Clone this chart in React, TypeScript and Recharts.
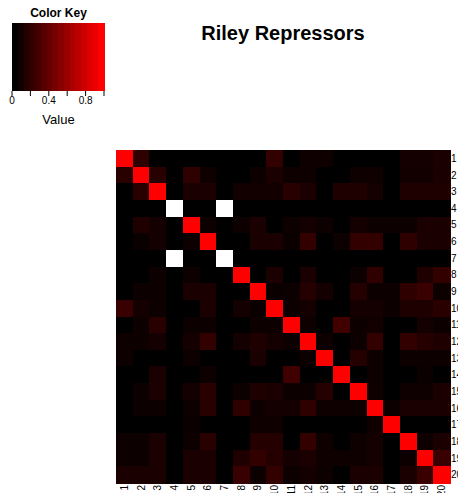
// Riley Repressors — correlation heatmap (20 x 20) with a colour key
import { ScatterChart, Scatter, XAxis, YAxis } from 'recharts'

const labels = Array.from({ length: 20 }, (_, i) => i + 1)

// rows top -> bottom, columns left -> right; null = no value (drawn white)
const cellValues: (number | null)[][] = [
  [1, 0.18, 0, 0, 0, 0, 0, 0, 0, 0.2, 0, 0.06, 0.06, 0, 0, 0, 0, 0.08, 0.08, 0.1],
  [0.16, 1, 0.16, 0, 0.18, 0.06, 0, 0, 0.05, 0.1, 0.06, 0.06, 0, 0, 0.06, 0.06, 0, 0.07, 0.07, 0.1],
  [0, 0.16, 1, 0, 0.1, 0.1, 0, 0.07, 0.07, 0.07, 0.16, 0.1, 0, 0.12, 0.12, 0.08, 0, 0.12, 0.12, 0.12],
  [0, 0, 0, null, 0, 0, null, 0, 0, 0, 0, 0, 0, 0, 0, 0, 0, 0, 0, 0],
  [0, 0.12, 0.08, 0, 1, 0.05, 0, 0.05, 0.1, 0, 0.05, 0.08, 0.05, 0, 0.08, 0.05, 0.05, 0.05, 0.1, 0.1],
  [0, 0.04, 0.08, 0, 0.05, 1, 0, 0, 0.1, 0.1, 0.04, 0.2, 0, 0.05, 0.2, 0.2, 0, 0.18, 0.1, 0.1],
  [0, 0, 0, null, 0, 0, null, 0, 0, 0, 0, 0, 0, 0, 0, 0, 0, 0, 0, 0],
  [0, 0, 0.05, 0, 0.05, 0, 0, 1, 0, 0.1, 0, 0.1, 0, 0, 0.05, 0.18, 0, 0, 0.12, 0.2],
  [0, 0.05, 0.05, 0, 0.1, 0.1, 0, 0, 1, 0.04, 0.05, 0.14, 0.08, 0, 0.14, 0.05, 0.05, 0.18, 0.22, 0.05],
  [0.22, 0.08, 0.05, 0, 0, 0.1, 0, 0.08, 0.04, 1, 0.05, 0.08, 0, 0, 0.08, 0.08, 0.05, 0.12, 0.12, 0.16],
  [0, 0.05, 0.16, 0, 0.05, 0.05, 0, 0, 0.05, 0.05, 1, 0.05, 0, 0.25, 0.05, 0.07, 0, 0, 0.08, 0.05],
  [0.05, 0.05, 0.08, 0, 0.08, 0.2, 0, 0.08, 0.12, 0.08, 0.05, 1, 0.05, 0, 0.05, 0.2, 0, 0.2, 0.15, 0.12],
  [0.05, 0, 0, 0, 0.05, 0, 0, 0, 0.1, 0, 0, 0.05, 1, 0, 0.14, 0.05, 0, 0.05, 0.05, 0.05],
  [0, 0, 0.1, 0, 0, 0.05, 0, 0, 0, 0, 0.25, 0, 0, 1, 0, 0.05, 0, 0, 0.04, 0],
  [0, 0.05, 0.1, 0, 0.08, 0.16, 0, 0.05, 0.12, 0.1, 0.05, 0.05, 0.14, 0, 1, 0.06, 0, 0.06, 0.06, 0.1],
  [0, 0.05, 0.05, 0, 0.05, 0.16, 0, 0.18, 0.05, 0.08, 0.08, 0.18, 0.06, 0.06, 0.05, 1, 0.05, 0.1, 0.1, 0.1],
  [0, 0, 0, 0, 0.04, 0, 0, 0, 0.06, 0.06, 0, 0, 0, 0, 0, 0.06, 1, 0, 0, 0],
  [0.05, 0.05, 0.1, 0, 0.05, 0.16, 0, 0, 0.14, 0.14, 0, 0.2, 0.06, 0, 0.06, 0.08, 0, 1, 0.05, 0.1],
  [0.05, 0.05, 0.1, 0, 0.1, 0.1, 0, 0.12, 0.2, 0.14, 0.08, 0.1, 0.06, 0.06, 0.06, 0.08, 0, 0.05, 1, 0.22],
  [0.1, 0.1, 0.1, 0, 0.1, 0.1, 0, 0.22, 0.05, 0.2, 0.05, 0.08, 0.05, 0, 0.1, 0.1, 0, 0.1, 0.22, 1],
]

const keyTicks = [0, 0.2, 0.4, 0.6, 0.8, 1]
const keyLabels = [0, 0.4, 0.8]
const keyBands = 16

const FONT = 'Liberation Sans, Arial, Helvetica, sans-serif'

// plot boxes (pixels)
const HM = { left: 116, top: 150, right: 450, bottom: 483 }
const KEY = { left: 12, top: 23, right: 104, bottom: 91 }

const cells = cellValues.flatMap((row, r) =>
  row.map((v, c) => ({ col: c + 1, row: r + 1, v }))
)

const bands = Array.from({ length: keyBands }, (_, i) => ({
  x: (i + 0.5) / keyBands,
  y: 0.5,
  v: i / (keyBands - 1),
}))

function colorOf(v: number | null) {
  if (v === null) return '#ffffff'
  return `rgb(${Math.round(255 * v)},0,0)`
}

function CellShape(props: any) {
  const { cx, cy, payload } = props
  const w = (HM.right - HM.left) / 20
  const h = (HM.bottom - HM.top) / 20
  return (
    <rect
      x={cx - w / 2}
      y={cy - h / 2}
      width={w + 1}
      height={h + 1}
      fill={colorOf(payload.v)}
      shapeRendering="crispEdges"
    />
  )
}

function BandShape(props: any) {
  const { cx, cy, payload } = props
  const w = (KEY.right - KEY.left) / keyBands
  const h = KEY.bottom - KEY.top
  return (
    <rect
      x={cx - w / 2}
      y={cy - h / 2}
      width={w + 1}
      height={h}
      fill={colorOf(payload.v)}
      shapeRendering="crispEdges"
    />
  )
}

function ColTick({ x, y, payload }: any) {
  return (
    <text
      x={x}
      y={y}
      transform={`rotate(-90 ${x} ${y})`}
      textAnchor="end"
      dy="0.35em"
      fontSize={10}
      fontFamily={FONT}
      fill="#000"
    >
      {payload.value}
    </text>
  )
}

export default function App() {
  return (
    <div style={{ position: 'absolute', left: 0, top: 0, width: 458, height: 493, background: '#fff', overflow: 'hidden' }}>
      {/* heatmap */}
      <div style={{ position: 'absolute', left: 0, top: 0 }}>
        <ScatterChart
          width={458}
          height={493}
          margin={{ top: HM.top, left: HM.left, right: 0, bottom: 0 }}
        >
          <XAxis
            type="number"
            dataKey="col"
            domain={[0.5, 20.5]}
            ticks={labels}
            interval={0}
            height={493 - HM.bottom}
            axisLine={false}
            tickLine={false}
            tickSize={0}
            tickMargin={2}
            tick={<ColTick />}
          />
          <YAxis
            type="number"
            dataKey="row"
            domain={[0.5, 20.5]}
            reversed
            orientation="right"
            ticks={labels}
            interval={0}
            width={458 - HM.right}
            axisLine={false}
            tickLine={false}
            tickSize={0}
            tickMargin={1}
            tick={{ fontSize: 10, fill: '#000', fontFamily: FONT, textAnchor: 'start' }}
          />
          <Scatter data={cells} shape={<CellShape />} isAnimationActive={false} />
        </ScatterChart>
      </div>

      {/* colour key */}
      <div style={{ position: 'absolute', left: 0, top: 0 }}>
        <ScatterChart
          width={122}
          height={115}
          margin={{ top: KEY.top, left: KEY.left, right: 122 - KEY.right, bottom: 0 }}
        >
          <XAxis
            type="number"
            dataKey="x"
            domain={[0, 1]}
            ticks={keyTicks}
            interval={0}
            height={115 - KEY.bottom}
            axisLine={false}
            tickLine={{ stroke: '#000' }}
            tickSize={5}
            tickMargin={1}
            tickFormatter={(v: number) => (keyLabels.includes(v) ? String(v) : '')}
            tick={{ fontSize: 10, fill: '#000', fontFamily: FONT }}
          />
          <YAxis type="number" dataKey="y" domain={[0, 1]} hide />
          <Scatter data={bands} shape={<BandShape />} isAnimationActive={false} />
        </ScatterChart>
      </div>

      <div style={{ position: 'absolute', left: 0, top: 6, width: 117, textAlign: 'center', fontFamily: FONT, fontWeight: 'bold', fontSize: 12 }}>
        Color Key
      </div>
      <div style={{ position: 'absolute', left: 0, top: 112, width: 117, textAlign: 'center', fontFamily: FONT, fontSize: 13 }}>
        Value
      </div>
      <div style={{ position: 'absolute', left: 120, top: 22, width: 326, textAlign: 'center', fontFamily: FONT, fontWeight: 'bold', fontSize: 20 }}>
        Riley Repressors
      </div>
    </div>
  )
}
